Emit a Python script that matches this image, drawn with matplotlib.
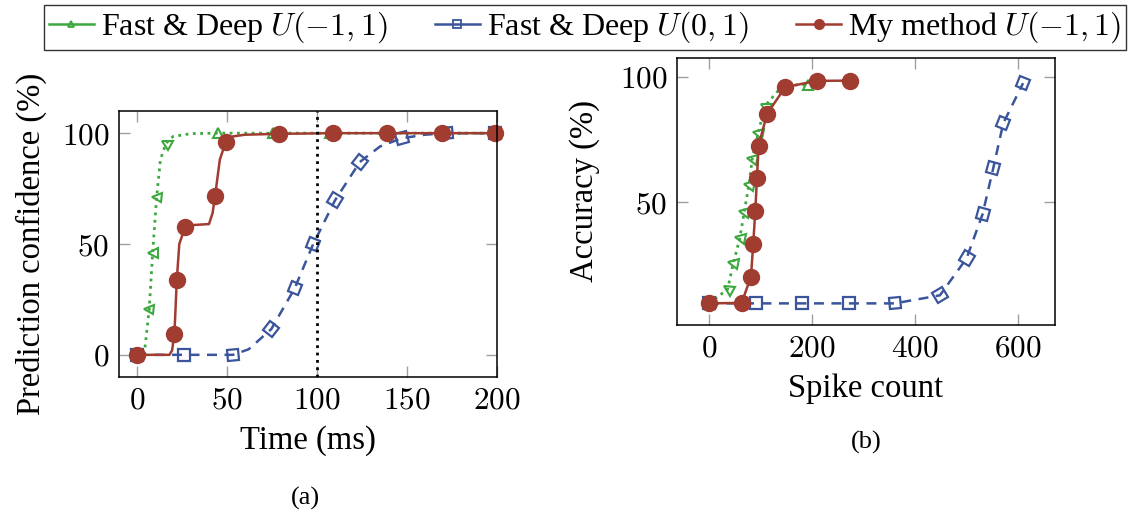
import numpy as np
import matplotlib
matplotlib.use('Agg')
import matplotlib.pyplot as plt
from matplotlib.lines import Line2D
from matplotlib.markers import MarkerStyle
from matplotlib.transforms import Affine2D
from matplotlib.ticker import FuncFormatter

plt.rcParams['font.family'] = ['Liberation Serif', 'DejaVu Serif']
plt.rcParams['mathtext.fontset'] = 'cm'

# (a) prediction confidence vs time
fd1_t = [0, 4, 6.8, 8.7, 10.9, 13, 16.1, 20, 30, 44.9, 75.5, 107, 139, 170, 200]
fd1_conf = [0, 0, 20.8, 46, 71, 88, 95.5, 98.5, 99.8, 100, 100, 100, 100, 100, 100]
fd1_marks = [0, 2, 3, 4, 6, 9, 10, 11, 12, 13]

fd0_t = [0, 26.3, 53.3, 62, 74.6, 87.6, 97.8, 110, 123.8, 135, 147, 160, 172, 199]
fd0_conf = [0, 0, 0, 2.5, 11.6, 30, 49.8, 69.7, 87, 94, 97.7, 99.3, 100, 100]
fd0_marks = [0, 1, 2, 4, 5, 6, 7, 8, 10, 12, 13]

my_t = [0, 18, 19.5, 20.8, 22.1, 23.5, 26.7, 30, 40, 42, 43.4, 46, 49.2, 53, 60,
        78.7, 109, 138.7, 169.4, 199]
my_conf = [0, 0, 2, 9.6, 33.7, 50, 57.7, 58.5, 59, 64, 71.8, 88, 95.8, 98.5, 99.3,
           99.7, 100, 100, 100, 100]
my_marks = [0, 3, 4, 6, 10, 12, 15, 16, 17, 18, 19]

# (b) accuracy vs spike count
fd1_spk = [0, 36.2, 47.3, 60.2, 68.6, 77.7, 84.1, 95.8, 108.7, 144.3, 192.8]
fd1_acc = [9.8, 15.4, 25.7, 35.9, 46.3, 56.9, 67.2, 77.7, 88.3, 96.7, 96.7]

fd0_spk = [0, 90.6, 181, 272, 361, 448.5, 500.3, 531.4, 552, 571.5, 610]
fd0_acc = [9.8, 9.8, 9.8, 9.8, 9.8, 13, 27.7, 45.3, 63.5, 81.4, 97.4]

my_spk = [0, 63.5, 81.6, 86, 90, 93.2, 96.5, 112.6, 148.2, 209, 273.8]
my_acc = [9.8, 10, 20.4, 33.4, 46.5, 59.5, 72.5, 85.1, 95.8, 98.3, 98.4]

labels = [r'Fast & Deep $U(-1,1)$', r'Fast & Deep $U(0,1)$', r'My method $U(-1,1)$']

green = '#3da83f'
blue = '#3a559b'
red = '#a13c31'

fig = plt.figure(figsize=(11.29, 5.19), dpi=100)
ax1 = fig.add_axes([119 / 1129, 1 - 377 / 519, 378 / 1129, 266 / 519])
ax2 = fig.add_axes([677 / 1129, 1 - 325 / 519, 378 / 1129, 267 / 519])

ax1.set_xlim(-10, 200)
ax1.set_ylim(-10, 110)
ax1.set_xticks([0, 50, 100, 150, 200])
ax1.set_yticks([0, 50, 100])
ax2.set_xlim(-62, 672)
ax2.set_ylim(1.2, 107.4)
ax2.set_xticks([0, 200, 400, 600])
ax2.set_yticks([50, 100])

sq = dict(markersize=8, markerfacecolor='none', markeredgewidth=1.6)
tri = dict(markersize=7, markerfacecolor='none', markeredgewidth=1.5)
dot = dict(markersize=11.5)


def curve(ax, x, y, color, ls, lw, mk, mstyle, marks=None, rotate=True):
    ax.plot(x, y, color=color, ls=ls, lw=lw)
    if marks is None:
        marks = range(len(x))
    # marks are turned along the path, as in the original
    pts = ax.transData.transform(np.column_stack([x, y]))
    n = len(x)
    for i in marks:
        a, b = max(i - 1, 0), min(i + 1, n - 1)
        ang = np.degrees(np.arctan2(pts[b, 1] - pts[a, 1], pts[b, 0] - pts[a, 0])) if rotate else 0
        m = MarkerStyle(mk, transform=Affine2D().rotate_deg(ang))
        ax.plot([x[i]], [y[i]], ls='none', marker=m, color=color, clip_on=False, **mstyle)


curve(ax1, fd1_t, fd1_conf, green, ':', 2, '^', tri, fd1_marks)
curve(ax1, fd0_t, fd0_conf, blue, (0, (4, 3)), 1.8, 's', sq, fd0_marks)
curve(ax1, my_t, my_conf, red, '-', 1.8, 'o', dot, my_marks, rotate=False)
ax1.axvline(100, color='black', ls=':', lw=2)

curve(ax2, fd1_spk, fd1_acc, green, ':', 2, '^', tri)
curve(ax2, fd0_spk, fd0_acc, blue, (0, (4, 3)), 1.8, 's', sq)
curve(ax2, my_spk, my_acc, red, '-', 1.8, 'o', dot, rotate=False)

fmt = FuncFormatter(lambda v, p: '$%g$' % v)
for ax in (ax1, ax2):
    ax.xaxis.set_major_formatter(fmt)
    ax.yaxis.set_major_formatter(fmt)
    ax.tick_params(direction='in', length=8, width=1, color='#a0a0a0',
                   top=True, right=True, labelsize=22.5, pad=7)
    for s in ax.spines.values():
        s.set_linewidth(1.1)

ax1.set_xlabel('Time (ms)', fontsize=23.5)
ax1.set_ylabel('Prediction confidence (%)', fontsize=23.5)
ax1.xaxis.set_label_coords(0.5, -0.18)
ax1.yaxis.set_label_coords(-0.19, 0.5)
ax2.set_xlabel('Spike count', fontsize=23.5)
ax2.set_ylabel('Accuracy (%)', fontsize=23.5)
ax2.xaxis.set_label_coords(0.5, -0.18)
ax2.yaxis.set_label_coords(-0.205, 0.5)

fig.text(305 / 1129, 1 - 498 / 519, '(a)', ha='center', va='center', fontsize=19)
fig.text(866 / 1129, 1 - 442 / 519, '(b)', ha='center', va='center', fontsize=19)

handles = [
    Line2D([], [], color=green, lw=1.8, marker='^', markersize=5, markerfacecolor='none', markeredgewidth=1.3),
    Line2D([], [], color=blue, lw=1.8, marker='s', markersize=6, markerfacecolor='none', markeredgewidth=1.3),
    Line2D([], [], color=red, lw=1.8, marker='o', markersize=7),
]
leg = fig.legend(handles, labels, loc='upper left', bbox_to_anchor=(44 / 1129, 1 - 5 / 519),
                 ncol=3, fontsize=23, frameon=True, fancybox=False, edgecolor='black',
                 handlelength=1.4, handletextpad=0.22, columnspacing=1.5,
                 borderaxespad=0, borderpad=0.15)
leg.get_frame().set_linewidth(1.0)

fig.savefig('out.png', dpi=100)
